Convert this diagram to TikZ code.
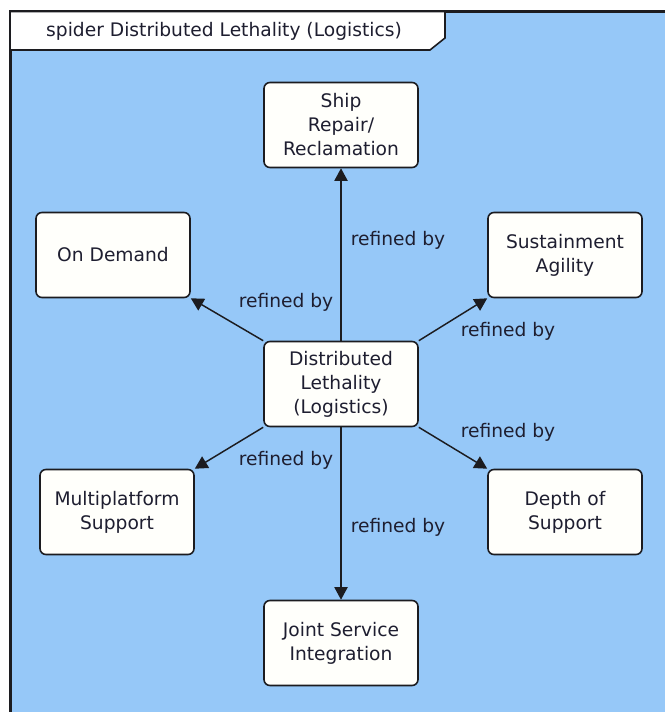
\documentclass[tikz,border=0pt]{standalone}
\usepackage{fontspec}
\setmainfont{DejaVu Sans}
\usetikzlibrary{arrows.meta}
\definecolor{bgblue}{RGB}{150,200,248}
\definecolor{edge}{RGB}{28,28,32}
\definecolor{txt}{RGB}{30,30,48}
\definecolor{boxfill}{RGB}{255,255,251}
\tikzset{
  blk/.style={draw=edge, line width=1.2pt, fill=boxfill, rounded corners=4.5pt,
    minimum width=115.5pt, minimum height=63.75pt, align=center,
    text=txt, font=\fontsize{14}{18}\selectfont, inner sep=0pt},
  rel/.style={draw=edge, line width=1.1pt, -{Triangle[length=9.5pt,width=10pt]}},
  lbl/.style={text=txt, font=\fontsize{14}{18}\selectfont, inner sep=0pt},
}
\begin{document}
\begin{tikzpicture}[x=0.75pt,y=-0.75pt]
\useasboundingbox (0,0) rectangle (665,712);
\fill[white] (0,0) rectangle (665,712);
\fill[bgblue] (10,11.5) rectangle (665,712);
\draw[edge, line width=2.25pt] (10,712) -- (10,11.5) -- (665,11.5);
\draw[edge, line width=1.2pt, fill=white] (10,11.5) -- (445,11.5) -- (445,38) -- (430,50) -- (10,50) -- cycle;
\node[lbl] (title) at (224,31) {spider Distributed Lethality (Logistics)};

\node[blk] (ship) at (341,125) {Ship\\Repair/\\Reclamation};
\node[blk] (ondemand) at (113,255) {On Demand};
\node[blk] (sust) at (565,255) {Sustainment\\Agility};
\node[blk] (dl) at (341,384) {Distributed\\Lethality\\(Logistics)};
\node[blk] (multi) at (117,512) {Multiplatform\\Support};
\node[blk] (depth) at (565,512) {Depth of\\Support};
\node[blk] (joint) at (341,643) {Joint Service\\Integration};

\draw[rel] (dl.north) -- (ship.south);
\draw[rel] (dl.north west) -- (ondemand.south east);
\draw[rel] (dl.north east) -- (sust.south west);
\draw[rel] (dl.south west) -- (multi.north east);
\draw[rel] (dl.south east) -- (depth.north west);
\draw[rel] (dl.south) -- (joint.north);

\node[lbl] (l1) at (398,240) {refined by};
\node[lbl] (l2) at (286,302) {refined by};
\node[lbl] (l3) at (508,331) {refined by};
\node[lbl] (l4) at (286,460) {refined by};
\node[lbl] (l5) at (508,432) {refined by};
\node[lbl] (l6) at (398,527) {refined by};
\end{tikzpicture}
\end{document}
